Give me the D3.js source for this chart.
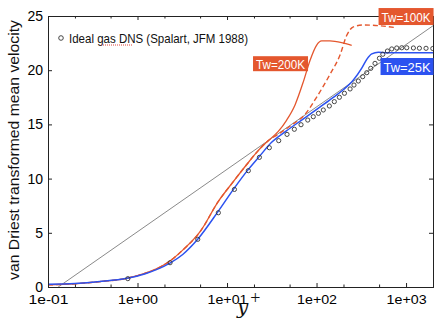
<!DOCTYPE html>
<html>
<head>
<meta charset="utf-8">
<script src="https://cdn.jsdelivr.net/npm/d3@7"></script>
<style>
  body { margin: 0; background: #fff; }
  svg { display: block; }
  text { font-family: "Liberation Sans", Arial, Helvetica, sans-serif; }
</style>
</head>
<body>
<div id="chart"></div>
<script>
// y+ (log axis) against van Driest velocity
var xTicks = [0.1, 1, 10, 100, 1000];
var xTickLabels = ["1e-01", "1e+00", "1e+01", "1e+02", "1e+03"];
var xMinor = [0.2, 0.5, 2, 5, 20, 50, 200, 500];
var yTicks = [0, 5, 10, 15, 20, 25];

// log-law reference line (end points)
var logLaw = [[0.13, 0], [2000, 24.1]];

var dnsYp = [0.78, 2.31, 4.71, 8.0, 12.1, 17.3, 23, 29.7, 37.8, 46.8, 56.5, 67.1, 79.8, 92, 105, 119,
  139, 158, 180, 205, 237, 262, 293, 328, 364, 403, 450, 504, 550, 619, 692, 787, 895, 1018,
  1208, 1410, 1672, 1990];
var dnsU = [0.77, 2.24, 4.4, 6.85, 9.0, 10.73, 11.96, 12.85, 13.5, 14.08, 14.55, 14.97, 15.4, 15.71, 16.02, 16.33,
  16.7, 17.1, 17.5, 17.87, 18.27, 18.63, 19.0, 19.4, 19.77, 20.17, 20.63, 21.1, 21.47, 21.77, 21.96, 22.05, 22.07, 22.07,
  22.05, 22.03, 22.02, 22.0];

var tw25Yp = [0.1, 0.2, 0.38, 0.76, 1.2, 1.6, 2.3, 3.2, 4.7, 8, 12, 17.3, 23, 31.5, 46, 74, 109, 154,
  199, 258, 320, 364, 414, 490, 600, 2000];
var tw25U = [0.25, 0.32, 0.5, 0.8, 1.2, 1.58, 2.2, 3.0, 4.4, 7.0, 9.1, 10.85, 12.05, 13.35, 14.4, 15.6, 16.6, 17.5,
  18.2, 19.1, 20.2, 21.0, 21.5, 21.65, 21.6, 21.6];

var tw200Yp = [0.1, 0.2, 0.38, 0.76, 1.2, 1.6, 2.3, 3.2, 5, 8, 11.7, 16.6, 22.4, 28.9, 37.4, 46.4, 57.5, 71,
  84.5, 100, 114, 141, 191, 247];
var tw200U = [0.2, 0.3, 0.5, 0.8, 1.25, 1.65, 2.4, 3.4, 5.1, 7.9, 9.7, 11.3, 12.6, 13.5, 14.35, 15.4, 16.8, 18.9,
  20.9, 22.3, 22.7, 22.7, 22.55, 22.3];

var tw100Yp = [0.1, 0.2, 0.38, 0.76, 1.2, 1.6, 2.3, 3.2, 5, 8, 11.7, 16.6, 22.4, 28.9, 37.4, 52.7, 74, 100,
  141, 183, 217, 258, 333, 513, 735];
var tw100U = [0.2, 0.3, 0.5, 0.8, 1.25, 1.65, 2.4, 3.4, 5.1, 7.9, 9.7, 11.3, 12.6, 13.5, 14.1, 14.95, 15.9, 17.5,
  19.6, 21.4, 23.2, 24.0, 24.17, 24.1, 23.95];

var W = 434, H = 320;
var orange = "#e4572e", blue = "#2c52f0";

var x = d3.scaleLog().domain([0.1, 2000]).range([48, 433]);
var y = d3.scaleLinear().domain([0, 25]).range([287, 16]);

var svg = d3.select("#chart").append("svg")
    .attr("width", W)
    .attr("height", H);

function pairs(xs, ys) {
    return xs.map(function (v, i) { return [v, ys[i]]; });
}

var line = d3.line()
    .x(function (d) { return x(d[0]); })
    .y(function (d) { return y(d[1]); })
    .curve(d3.curveMonotoneX);

// log law
svg.append("path")
    .attr("d", d3.line().x(function (d) { return x(d[0]); }).y(function (d) { return y(d[1]); })(logLaw))
    .attr("fill", "none")
    .attr("stroke", "#6b6b6b")
    .attr("stroke-width", 0.8);

svg.append("path")
    .attr("d", line(pairs(tw200Yp, tw200U)))
    .attr("fill", "none")
    .attr("stroke", orange)
    .attr("stroke-width", 1.3);

svg.append("path")
    .attr("d", line(pairs(tw100Yp, tw100U)))
    .attr("fill", "none")
    .attr("stroke", orange)
    .attr("stroke-width", 1.4)
    .attr("stroke-dasharray", "5,3");

svg.append("path")
    .attr("d", line(pairs(tw25Yp, tw25U)))
    .attr("fill", "none")
    .attr("stroke", blue)
    .attr("stroke-width", 1.5);

svg.append("g").selectAll("circle")
    .data(pairs(dnsYp, dnsU))
    .enter().append("circle")
    .attr("cx", function (d) { return x(d[0]); })
    .attr("cy", function (d) { return y(d[1]); })
    .attr("r", 2.1)
    .attr("fill", "none")
    .attr("stroke", "#333")
    .attr("stroke-width", 0.9);

// axes, all ticks pointing inward
var gx = svg.append("g").attr("transform", "translate(0,287)")
    .call(d3.axisBottom(x).tickValues(xTicks).tickSize(-4).tickPadding(8)
        .tickFormat(function (d, i) { return xTickLabels[i]; }));
svg.append("g").attr("transform", "translate(0,287)")
    .call(d3.axisBottom(x).tickValues(xMinor).tickSize(-2.5).tickFormat(""));
svg.append("g").attr("transform", "translate(0,16)")
    .call(d3.axisTop(x).tickValues(xTicks).tickSize(-4).tickFormat(""));
svg.append("g").attr("transform", "translate(0,16)")
    .call(d3.axisTop(x).tickValues(xMinor).tickSize(-2.5).tickFormat(""));
var gy = svg.append("g").attr("transform", "translate(48,0)")
    .call(d3.axisLeft(y).tickValues(yTicks).tickSize(-4).tickPadding(5));
svg.append("g").attr("transform", "translate(433,0)")
    .call(d3.axisRight(y).tickValues(yTicks).tickSize(-4).tickFormat(""));

svg.selectAll(".domain").attr("stroke", "#222").attr("stroke-width", 1);
svg.selectAll(".tick line").attr("stroke", "#222");
gx.selectAll("text").attr("font-size", 13).attr("fill", "#000")
    .attr("textLength", 40).attr("lengthAdjust", "spacingAndGlyphs");
gy.selectAll("text").attr("font-size", 14).attr("fill", "#000");

// legend
svg.append("circle")
    .attr("cx", 61).attr("cy", 38).attr("r", 2.3)
    .attr("fill", "none").attr("stroke", "#333").attr("stroke-width", 0.9);
svg.append("text")
    .attr("x", 69).attr("y", 43)
    .attr("font-size", 13)
    .attr("textLength", 179).attr("lengthAdjust", "spacingAndGlyphs")
    .attr("fill", "#111")
    .text("Ideal gas DNS (Spalart, JFM 1988)");
svg.append("line")
    .attr("x1", 101).attr("x2", 132).attr("y1", 45).attr("y2", 45)
    .attr("stroke", "#e0453a").attr("stroke-width", 1).attr("stroke-dasharray", "1,1");

// case labels
var caseNames = ["Tw=200K", "Tw=100K", "Tw=25K"];
var caseColors = [orange, orange, blue];
var caseAnchor = [[39.6, 20.6], [1000, 24.95], [1026, 20.34]];
var caseBox = [[55, 15], [55, 17], [53, 17]];

caseNames.forEach(function (name, i) {
    var cx = x(caseAnchor[i][0]), cy = y(caseAnchor[i][1]);
    var bw = caseBox[i][0], bh = caseBox[i][1];
    svg.append("rect")
        .attr("x", cx - bw / 2).attr("y", cy - bh / 2)
        .attr("width", bw).attr("height", bh)
        .attr("fill", caseColors[i]);
    svg.append("text")
        .attr("x", cx).attr("y", cy + 5)
        .attr("text-anchor", "middle")
        .attr("font-size", 13.5)
        .attr("fill", "#fff")
        .attr("textLength", bw - 6).attr("lengthAdjust", "spacingAndGlyphs")
        .text(name);
});

// axis titles
svg.append("text")
    .attr("transform", "translate(19,150) rotate(-90)")
    .attr("text-anchor", "middle")
    .attr("font-size", 15)
    .attr("textLength", 260).attr("lengthAdjust", "spacingAndGlyphs")
    .attr("fill", "#111")
    .text("van Driest transformed mean velocity");

var xt = svg.append("text")
    .attr("x", 237).attr("y", 314)
    .attr("fill", "#111");
xt.append("tspan")
    .attr("font-family", "'DejaVu Serif', 'Liberation Serif', serif")
    .attr("font-style", "italic")
    .attr("font-size", 20)
    .text("y");
xt.append("tspan")
    .attr("font-family", "'Liberation Serif', serif")
    .attr("font-size", 18)
    .attr("dx", 2)
    .attr("dy", -10)
    .text("+");
</script>
</body>
</html>
